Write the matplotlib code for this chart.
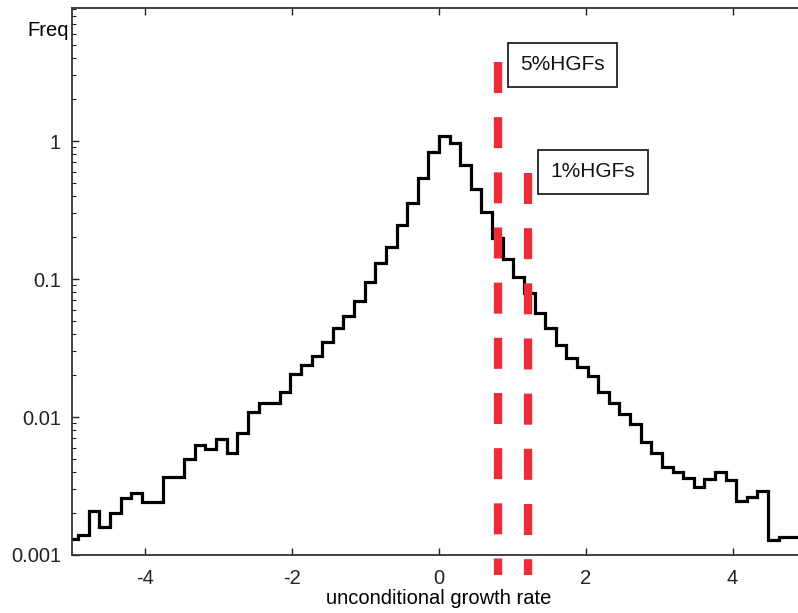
import numpy as np
import matplotlib
matplotlib.use('Agg')
import matplotlib.pyplot as plt

plt.rcParams['font.family'] = ['Liberation Sans', 'DejaVu Sans']

# histogram of unconditional growth rate (log-scale frequencies)
bin_width = 0.1446
first_edge = -35 * bin_width
freq = [0.00130, 0.00140, 0.00208, 0.00160, 0.00201, 0.00258, 0.00283, 0.00243,
        0.00243, 0.00369, 0.00369, 0.00496, 0.00627, 0.00586, 0.00689, 0.00546,
        0.00769, 0.0108, 0.0127, 0.0127, 0.0153, 0.0205, 0.0238, 0.0277,
        0.0351, 0.0439, 0.0539, 0.0696, 0.0956, 0.130, 0.171, 0.246,
        0.357, 0.542, 0.828, 1.087, 0.962, 0.670, 0.447, 0.307,
        0.197, 0.139, 0.103, 0.0788, 0.0564, 0.0439, 0.0332, 0.0266,
        0.0231, 0.0198, 0.0153, 0.0127, 0.0105, 0.00890, 0.00656, 0.00551,
        0.00436, 0.00401, 0.00360, 0.00310, 0.00354, 0.00401, 0.00349, 0.00247,
        0.00262, 0.00292, 0.00128, 0.00134, 0.00134]
edges = first_edge + bin_width * np.arange(len(freq) + 1)

# thresholds for high growth firms
hgf_labels = ['5%HGFs', '1%HGFs']
hgf_x = [0.805, 1.214]
hgf_top = [3.74, 0.583]
label_x = [1.685, 2.094]
label_y = [3.57, 0.599]

xticks = [-4, -2, 0, 2, 4]
yticks = [0.001, 0.01, 0.1, 1]
yticklabels = ['0.001', '0.01', '0.1', '1']

fig = plt.figure(figsize=(7.98, 6.13), dpi=100)
ax = fig.add_axes([72 / 798, 58 / 613, 734 / 798, 547 / 613])

ax.stairs(freq, edges, color='black', linewidth=2.3, baseline=None)

red = '#ec2d37'
for x, top in zip(hgf_x, hgf_top):
    ax.plot([x, x], [top, 0.000716], color=red, linewidth=6,
            dashes=(3.72, 2.9), solid_capstyle='butt', clip_on=False, zorder=3)

for lab, x, y in zip(hgf_labels, label_x, label_y):
    ax.text(x, y, lab, fontsize=15, ha='center', va='center', color='#111111',
            bbox=dict(boxstyle='square,pad=0.6', facecolor='white',
                      edgecolor='#222222', linewidth=1.3))

ax.set_yscale('log')
ax.set_xlim(-5, 5)
ax.set_ylim(0.001, 9.2)
ax.set_xticks(xticks)
ax.set_xticklabels([str(t) for t in xticks])
ax.set_yticks(yticks)
ax.set_yticklabels(yticklabels)

ax.tick_params(which='both', direction='in', top=True, right=True, colors='#222222',
               labelsize=14.5)
ax.tick_params(axis='x', which='major', length=5, width=1, pad=10)
ax.tick_params(axis='y', which='major', length=5, width=1, pad=8)
ax.tick_params(axis='y', which='minor', length=3, width=0.8)
ax.tick_params(axis='x', which='minor', bottom=False, top=False)
for s in ax.spines.values():
    s.set_linewidth(1.3)
    s.set_color('#333333')

ax.set_xlabel('unconditional growth rate', fontsize=14.5, labelpad=1)
ax.set_ylabel('Freq', fontsize=14.5, rotation=0, ha='right', va='center')
ax.yaxis.set_label_coords(-0.004, 525 / 547)

fig.savefig('out.png', dpi=100)
